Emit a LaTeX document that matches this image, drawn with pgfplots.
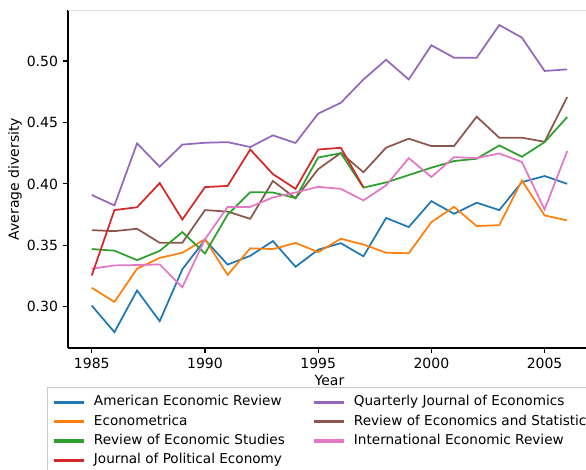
\documentclass[border=0pt]{standalone}
\usepackage{fontspec}
\setmainfont{DejaVu Sans}
\usepackage{pgfplots}
\usepackage{pgfplotstable}
\pgfplotsset{compat=1.18}

\definecolor{tabblue}{HTML}{1F77B4}
\definecolor{taborange}{HTML}{FF7F0E}
\definecolor{tabgreen}{HTML}{2CA02C}
\definecolor{tabred}{HTML}{D62728}
\definecolor{tabpurple}{HTML}{9467BD}
\definecolor{tabbrown}{HTML}{8C564B}
\definecolor{tabpink}{HTML}{E377C2}

\pgfplotstableread{
year AER    ECMA   RES    QJE    REStat IER
1985 0.3010 0.3155 0.3470 0.3910 0.3624 0.3310
1986 0.2794 0.3040 0.3457 0.3825 0.3616 0.3337
1987 0.3133 0.3310 0.3380 0.4330 0.3635 0.3340
1988 0.2883 0.3398 0.3455 0.4140 0.3521 0.3345
1989 0.3305 0.3440 0.3608 0.4320 0.3521 0.3160
1990 0.3545 0.3550 0.3434 0.4335 0.3787 0.3550
1991 0.3344 0.3260 0.3750 0.4340 0.3775 0.3813
1992 0.3415 0.3476 0.3933 0.4300 0.3716 0.3813
1993 0.3535 0.3470 0.3930 0.4395 0.4024 0.3890
1994 0.3326 0.3520 0.3885 0.4333 0.3883 0.3930
1995 0.3465 0.3445 0.4215 0.4572 0.4120 0.3976
1996 0.3518 0.3554 0.4250 0.4660 0.4252 0.3960
1997 0.3411 0.3507 0.3970 0.4850 0.4095 0.3866
1998 0.3723 0.3440 0.4012 0.5010 0.4295 0.3988
1999 0.3649 0.3436 0.4072 0.4850 0.4368 0.4210
2000 0.3860 0.3689 0.4132 0.5128 0.4308 0.4056
2001 0.3757 0.3814 0.4186 0.5027 0.4308 0.4218
2002 0.3847 0.3657 0.4205 0.5027 0.4547 0.4210
2003 0.3787 0.3665 0.4313 0.5293 0.4376 0.4248
2004 0.4015 0.4028 0.4221 0.5190 0.4376 0.4178
2005 0.4064 0.3744 0.4340 0.4919 0.4343 0.3792
2006 0.4001 0.3703 0.4544 0.4932 0.4707 0.4267
}\datatable

\pgfplotstableread{
year JPE
1985 0.3255
1986 0.3787
1987 0.3810
1988 0.4007
1989 0.3710
1990 0.3974
1991 0.3984
1992 0.4280
1993 0.4080
1994 0.3960
1995 0.4280
1996 0.4294
1997 0.3972
}\jpetable

\begin{document}
\fontsize{10.5pt}{12.6pt}\selectfont
\begin{tikzpicture}
\begin{axis}[
  name=ax,
  at={(0,0)}, anchor=south west,
  scale only axis,
  width=392.25pt, height=253.5pt,
  xmin=1983.95, xmax=2007.05,
  ymin=0.2665, ymax=0.5415,
  axis x line*=bottom, axis y line*=left,
  axis line style={black, line width=0.8pt},
  every tick/.style={black, line width=0.8pt},
  tick align=outside,
  major tick length=3.8pt,
  xtick={1985,1990,1995,2000,2005},
  ytick={0.30,0.35,0.40,0.45,0.50},
  /pgf/number format/assume math mode=true,
  x tick label style={/pgf/number format/1000 sep={}},
  y tick label style={/pgf/number format/.cd, fixed, fixed zerofill, precision=2},
  tick label style={font=\fontsize{10.5pt}{12.6pt}\selectfont},
  xlabel={Year},
  ylabel={Average diversity},
  label style={font=\fontsize{10.5pt}{12.6pt}\selectfont},
  xlabel style={at={(axis description cs:0.5,-0.0947)}, anchor=center},
  ylabel style={at={(axis description cs:-0.1013,0.5)}, anchor=center},
  legend columns=2,
  legend cell align=left,
  legend image code/.code={\fill[#1] (0pt,-0.55pt) rectangle (21pt,0.55pt);},
  legend style={
    at={(axis description cs:-0.0402,-0.1154)}, anchor=north west,
    draw=black!20, fill=white,
    font=\fontsize{10.2pt}{12.2pt}\selectfont,
    inner xsep=5.25pt, inner ysep=4pt,
    row sep=0pt,
    nodes={text height=8pt, text depth=2.5pt, inner ysep=2pt},
    /tikz/every odd column/.append style={column sep=5.5pt},
    /tikz/every even column/.append style={column sep=20pt},
  },
  every axis plot/.append style={line width=1.3pt},
]
\addplot[tabblue] table[x=year, y=AER] {\datatable};
\addlegendentry{American Economic Review}
\addplot[tabpurple] table[x=year, y=QJE] {\datatable};
\addlegendentry{Quarterly Journal of Economics}
\addplot[taborange] table[x=year, y=ECMA] {\datatable};
\addlegendentry{Econometrica}
\addplot[tabbrown] table[x=year, y=REStat] {\datatable};
\addlegendentry{Review of Economics and Statistics}
\addplot[tabgreen] table[x=year, y=RES] {\datatable};
\addlegendentry{Review of Economic Studies}
\addplot[tabpink] table[x=year, y=IER] {\datatable};
\addlegendentry{International Economic Review}
\addplot[tabred] table[x=year, y=JPE] {\jpetable};
\addlegendentry{Journal of Political Economy}
\draw[black!12, line width=0.8pt] (rel axis cs:0,1) -- (rel axis cs:1,1);
\end{axis}
\pgfresetboundingbox
\path[use as bounding box] ([shift={(-51pt,-90.75pt)}]ax.south west) rectangle ([shift={(388.5pt,261pt)}]ax.south west);
\end{tikzpicture}
\end{document}
